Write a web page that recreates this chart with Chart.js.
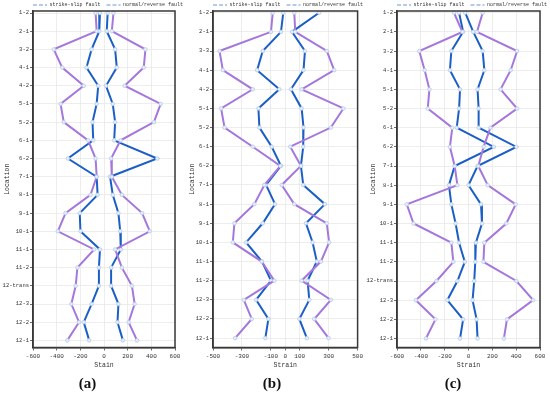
<!DOCTYPE html>
<html>
<head>
<meta charset="utf-8">
<script src="https://cdn.jsdelivr.net/npm/chart.js@4.4.0/dist/chart.umd.min.js"></script>
<style>
    html, body { margin: 0; padding: 0; background: #fff; }
    .panel { position: absolute; top: 0; height: 394px; }
</style>
</head>
<body>
<div class="panel" style="left:0;width:183px"><canvas id="chartA"></canvas></div>
<div class="panel" style="left:185px;width:180px"><canvas id="chartB"></canvas></div>
<div class="panel" style="left:366px;width:184px"><canvas id="chartC"></canvas></div>
<script>
// panel (a)
const locationsA = ['1-2', '2-1', '3-2', '4-1', '4-2', '5-1', '5-2', '6-1', '6-2', '7-1', '8-1', '9-1', '10-1', '11-1', '11-2', '12-trans', '12-3', '12-2', '12-1'];
const slipLeftA = [-71, -62, -425, -353, -171, -367, -340, -134, -71, -62, -114, -325, -390, -83, -225, -239, -276, -211, -310];
const slipRightA = [80, 66, 350, 336, 174, 479, 422, 140, 60, 66, 151, 322, 387, 94, 151, 236, 259, 208, 279];
const normalLeftA = [-34, -40, -105, -148, -49, -62, -97, -91, -305, -62, -54, -205, -199, -34, -43, -43, -105, -171, -125];
const normalRightA = [31, 23, 94, 108, 17, 74, 94, 86, 450, 51, 74, 122, 137, 142, 60, 60, 122, 114, 160];
const xTicksA = [-600, -400, -200, 0, 200, 400, 600];

// panel (b)
const locationsB = ['1-2', '2-1', '3-3', '4-1', '4-2', '5-1', '5-2', '6-1', '6-2', '7-1', '8-1', '9-1', '10-1', '11-1', '11-2', '12-3', '12-2', '12-1'];
const slipLeftB = [-87, -99, -455, -432, -225, -444, -420, -225, -34, -145, -214, -352, -363, -163, -76, -287, -232, -347];
const slipRightB = [62, 69, 287, 338, 113, 402, 315, 34, 108, -25, 62, 287, 303, 246, 113, 315, 200, 299];
const normalLeftB = [-14, -30, -156, -195, -41, -186, -179, -94, -30, -133, -71, -156, -271, -161, -99, -202, -117, -138];
const normalRightB = [234, 46, 136, 126, 39, 113, 126, 124, 108, 124, 274, 143, 189, 218, 154, 166, 97, 149];
const xTicksB = [-500, -300, -100, 0, 100, 300, 500];

// panel (c)
const locationsC = ['1-2', '2-1', '3-2', '4-1', '5-1', '5-2', '6-1', '6-2', '7-1', '8-1', '9-1', '10-1', '11-1', '11-2', '12-trans', '12-3', '12-2', '12-1'];
const slipLeftC = [-122, -51, -413, -368, -328, -342, -136, -156, -116, -93, -518, -461, -144, -127, -269, -442, -277, -357];
const slipRightC = [119, 71, 408, 354, 269, 408, 184, 127, 82, 161, 396, 317, 133, 125, 402, 543, 323, 297];
const normalLeftC = [-79, -45, -144, -156, -71, -79, -99, 212, -116, -164, -144, -108, -79, -31, -93, -178, -45, -71];
const normalRightC = [-28, 40, 119, 133, 76, 85, 85, 402, 76, 0, 105, 113, 62, 57, 48, 34, 68, 76];
const xTicksC = [-600, -400, -200, 0, 200, 400, 600];

const purple = '#a577dc';
const blue = '#1b5fc6';
const textColor = '#333';
const mono = 'Liberation Mono';

Chart.defaults.font.family = mono;
Chart.defaults.color = textColor;

const toPoints = values => values.map((v, i) => ({x: v, y: i}));

function series(label, values, color) {
    return {
        label: label,
        data: toPoints(values),
        showLine: true,
        borderColor: color,
        backgroundColor: color,
        borderWidth: 2,
        pointRadius: 1.8,
        pointBackgroundColor: '#e6eef9',
        pointBorderColor: '#b5cbe9',
        pointBorderWidth: 0.8
    };
}

// box around the plot area
const framePlugin = {
    id: 'frame',
    afterDatasetsDraw(chart) {
        const {ctx, chartArea: a} = chart;
        ctx.save();
        ctx.strokeStyle = '#383838';
        ctx.lineWidth = 1.5;
        ctx.strokeRect(a.left, a.top, a.right - a.left, a.bottom - a.top);
        ctx.restore();
    }
};

// legend sits tight above the frame, starting at its left edge
const legendPlugin = {
    id: 'legendSpot',
    afterLayout(chart) {
        const legend = chart.legend;
        legend.top = -3.5;
        legend.left = chart.chartArea.left - 6;
        legend.right = chart.width + 40;
    }
};

function makePanel(id, locations, slipL, slipR, normL, normR, xTicks, xRange, yRange, yWidth, padRight, xTitle, tag) {
    return new Chart(document.getElementById(id), {
        type: 'scatter',
        data: {
            datasets: [
                series('strike-slip fault', slipL, purple),
                series('strike-slip fault', slipR, purple),
                series('normal/reverse fault', normL, blue),
                series('normal/reverse fault', normR, blue)
            ]
        },
        options: {
            responsive: true,
            maintainAspectRatio: false,
            animation: false,
            events: [],
            layout: {padding: {left: 0, right: padRight, top: 0, bottom: 0}},
            scales: {
                x: {
                    type: 'linear',
                    min: xRange[0],
                    max: xRange[1],
                    afterBuildTicks: s => { s.ticks = xTicks.map(v => ({value: v})); },
                    afterFit: s => { s.height = 28; },
                    ticks: {autoSkip: false, maxRotation: 0, padding: 2, font: {size: 6}, callback: v => String(v)},
                    grid: {color: '#e8e8e8', lineWidth: 0.8, tickColor: '#444', tickLength: 3},
                    border: {color: '#383838', width: 1.5},
                    title: {display: true, text: xTitle, padding: {top: 0, bottom: 6}, font: {size: 6.5}}
                },
                y: {
                    type: 'linear',
                    reverse: true,
                    min: yRange[0],
                    max: yRange[1],
                    afterBuildTicks: s => { s.ticks = locations.map((_, i) => ({value: i})); },
                    afterFit: s => { s.width = yWidth; },
                    ticks: {autoSkip: false, padding: 1, font: {size: 5.5}, callback: v => locations[v]},
                    grid: {color: '#e8e8e8', lineWidth: 0.8, tickColor: '#444', tickLength: 3},
                    border: {color: '#383838', width: 1.5},
                    title: {display: true, text: 'Location', padding: {top: 3, bottom: 0}, font: {size: 6.5}}
                }
            },
            plugins: {
                tooltip: {enabled: false},
                legend: {
                    position: 'top',
                    align: 'start',
                    maxHeight: 11,
                    labels: {
                        usePointStyle: true,
                        pointStyleWidth: 14,
                        boxHeight: 3,
                        padding: 6,
                        font: {family: mono, size: 5},
                        generateLabels(chart) {
                            return Chart.defaults.plugins.legend.labels.generateLabels(chart)
                                .filter(item => item.datasetIndex % 2 === 0)
                                .map(item => Object.assign(item, {pointStyle: 'line', lineDash: [4, 2], lineWidth: 1.8}));
                        }
                    }
                },
                title: {
                    display: true,
                    text: tag,
                    position: 'bottom',
                    color: '#111',
                    font: {family: 'Liberation Serif', size: 15, weight: 'bold', lineHeight: 1.1},
                    padding: {top: 0, bottom: 2}
                }
            }
        },
        plugins: [framePlugin, legendPlugin]
    });
}

makePanel('chartA', locationsA, slipLeftA, slipRightA, normalLeftA, normalRightA, xTicksA,
    [-600, 600], [-0.11, 18.39], 33, 8, 'Stain', '(a)');
makePanel('chartB', locationsB, slipLeftB, slipRightB, normalLeftB, normalRightB, xTicksB,
    [-500, 500], [-0.09, 17.49], 28, 6, 'Strain', '(b)');
makePanel('chartC', locationsC, slipLeftC, slipRightC, normalLeftC, normalRightC, xTicksC,
    [-600, 600], [-0.09, 17.47], 31, 10, 'Strain', '(c)');
</script>
</body>
</html>
